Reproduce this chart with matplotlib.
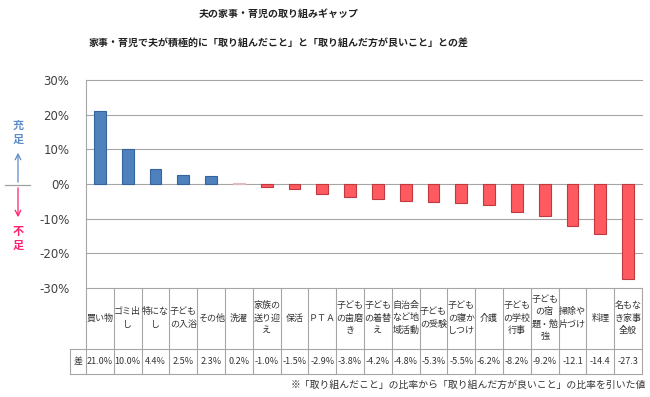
import matplotlib
matplotlib.use("Agg")
import matplotlib.pyplot as plt
from matplotlib.ticker import FuncFormatter

plt.rcParams['font.family'] = ['Noto Sans CJK JP', 'DejaVu Sans']

# data
categories = ["買い物", "ゴミ出\nし", "特にな\nし", "子ども\nの入浴", "その他", "洗濯",
              "家族の\n送り迎\nえ", "保活", "ＰＴＡ", "子ども\nの歯磨\nき", "子ども\nの着替\nえ",
              "自治会\nなど地\n域活動", "子ども\nの受験", "子ども\nの寝か\nしつけ", "介護",
              "子ども\nの学校\n行事", "子ども\nの宿\n題・勉\n強", "掃除や\n片づけ", "料理",
              "名もな\nき家事\n全般"]
values = [21.0, 10.0, 4.4, 2.5, 2.3, 0.2, -1.0, -1.5, -2.9, -3.8, -4.2,
          -4.8, -5.3, -5.5, -6.2, -8.2, -9.2, -12.1, -14.4, -27.3]
value_labels = ["21.0%", "10.0%", "4.4%", "2.5%", "2.3%", "0.2%", "-1.0%", "-1.5%",
                "-2.9%", "-3.8%", "-4.2%", "-4.8%", "-5.3%", "-5.5%", "-6.2%", "-8.2%",
                "-9.2%", "-12.1", "-14.4", "-27.3"]
yticks = [30, 20, 10, 0, -10, -20, -30]

W, H = 650, 397
def fx(x): return x / W
def fy(y): return 1 - y / H

fig = plt.figure(figsize=(6.5, 3.97), dpi=100)
grid_c = "#A6A6A6"

# main chart
ax = fig.add_axes([fx(86), fy(288), fx(642) - fx(86), fy(80) - fy(288)])
n = len(values)
x = list(range(n))
face = []
edge = []
for i, v in enumerate(values):
    if v >= 0:
        face.append("#4F81BD" if v > 1 else "#F2DCDB")
        edge.append("#35649C" if v > 1 else "#E6B9B8")
    else:
        face.append("#FF5A5F")
        edge.append("#C0393E")
ax.bar(x, values, width=0.42, color=face, edgecolor=edge, linewidth=0.8, zorder=3)
ax.set_xlim(-0.5, n - 0.5)
ax.set_ylim(-30, 30)
ax.set_yticks(yticks)
ax.yaxis.set_major_formatter(FuncFormatter(lambda v, p: f"{int(v)}%"))
ax.tick_params(axis='y', length=0, pad=12, labelsize=8.5, labelcolor="#404040")
for lab in ax.get_yticklabels():
    lab.set_family('DejaVu Sans')
ax.set_xticks([])
for y in yticks:
    ax.axhline(y, color=grid_c, lw=0.8, zorder=1, clip_on=False)
for s in ['top', 'right', 'bottom']:
    ax.spines[s].set_visible(False)
ax.spines['left'].set_color(grid_c)
ax.spines['left'].set_linewidth(0.8)

# table below
tb = fig.add_axes([fx(86), fy(374), fx(642) - fx(86), fy(288) - fy(374)])
tb.set_xlim(-0.5, n - 0.5)
tb.set_ylim(0, 86)  # value row 0-25, category row 25-86
tb.axis('off')
for i in range(n + 1):
    tb.plot([i - 0.5, i - 0.5], [0, 86], color=grid_c, lw=0.8, clip_on=False)
x0 = -0.5 - 16 / 27.8
for yy in [0, 25]:
    tb.plot([x0, n - 0.5], [yy, yy], color=grid_c, lw=0.8, clip_on=False)
tb.plot([x0, x0], [0, 25], color=grid_c, lw=0.8, clip_on=False)
tb.text((x0 - 0.5) / 2, 12.5, "差", ha='center', va='center', fontsize=6.5, color="#333333")
for i, (c, vl) in enumerate(zip(categories, value_labels)):
    tb.text(i, 56, c, ha='center', va='center', fontsize=6.5, color="#333333",
            linespacing=1.45)
    tb.text(i, 12.5, vl, ha='center', va='center', fontsize=6.5, color="#333333")

# titles
fig.text(fx(279), fy(14), "夫の家事・育児の取り組みギャップ", ha='center', va='center',
         fontsize=7.2, fontweight='bold', color="#222222")
fig.text(fx(279), fy(43), "家事・育児で夫が積極的に「取り組んだこと」と「取り組んだ方が良いこと」との差",
         ha='center', va='center', fontsize=7.2, fontweight='bold', color="#222222")
fig.text(fx(646), fy(385), "※「取り組んだこと」の比率から「取り組んだ方が良いこと」の比率を引いた値",
         ha='right', va='center', fontsize=7.1, color="#333333")

# left side annotation
fig.add_artist(plt.Line2D([fx(5), fx(30)], [fy(185), fy(185)], color="#A0A0A0", lw=0.9))
ax.annotate("", xy=(fx(18), fy(150)), xytext=(fx(18), fy(185)), xycoords='figure fraction',
            arrowprops=dict(arrowstyle='->', color="#5B8BC8", lw=0.9))
ax.annotate("", xy=(fx(18), fy(220)), xytext=(fx(18), fy(185)), xycoords='figure fraction',
            arrowprops=dict(arrowstyle='->', color="#FF1F6E", lw=0.9))
fig.text(fx(18), fy(132), "充\n足", ha='center', va='center', fontsize=8, fontweight='bold',
         color="#5B8BC8", linespacing=1.1)
fig.text(fx(18), fy(238), "不\n足", ha='center', va='center', fontsize=8, fontweight='bold',
         color="#FF1F6E", linespacing=1.1)

fig.savefig("out.png", dpi=100)
